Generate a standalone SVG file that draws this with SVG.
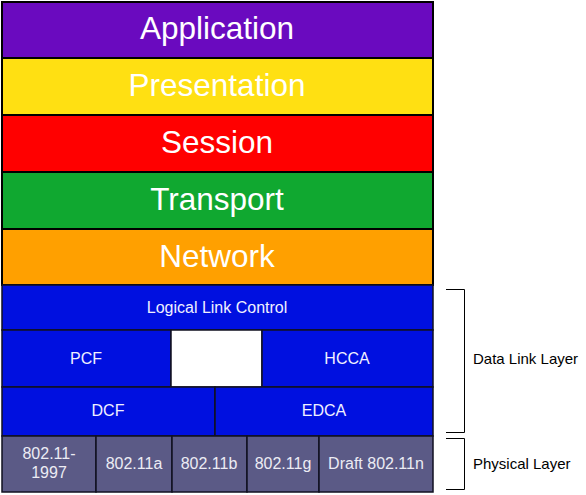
<svg xmlns="http://www.w3.org/2000/svg" width="586" height="495" viewBox="0 0 586 495">
<style>
.big{font-family:"Liberation Sans",Arial,sans-serif;font-size:31.5px;fill:#ffffff;text-anchor:middle}
.sm{font-family:"Liberation Sans",Arial,sans-serif;font-size:16px;fill:#f0f0ff;text-anchor:middle}
.ph{font-family:"Liberation Sans",Arial,sans-serif;font-size:16px;fill:#ececf4;text-anchor:middle}
.lbl{font-family:"Liberation Sans",Arial,sans-serif;font-size:15px;fill:#000000}
.box{stroke:#000000;stroke-width:2}
.mac{fill:#0010e0;stroke:#101020;stroke-width:1.5}
.phy{fill:#5b5a86;stroke:#101020;stroke-width:1.5}
.br{fill:none;stroke:#000000;stroke-width:1}
</style>
<rect width="586" height="495" fill="#ffffff"/>
<g id="application"><rect class="box" x="2" y="2" width="431" height="56" fill="#6a0abf"/><text class="big" x="217" y="39">Application</text></g>
<g id="presentation"><rect class="box" x="2" y="58" width="431" height="57" fill="#ffe012"/><text class="big" x="217" y="96">Presentation</text></g>
<g id="session"><rect class="box" x="2" y="115" width="431" height="57" fill="#ff0000"/><text class="big" x="217" y="153">Session</text></g>
<g id="transport"><rect class="box" x="2" y="172" width="431" height="57" fill="#10a830"/><text class="big" x="217" y="210">Transport</text></g>
<g id="network"><rect class="box" x="2" y="229" width="431" height="56" fill="#ffa000"/><text class="big" x="217" y="267">Network</text></g>
<g id="llc"><rect class="mac" x="2" y="285" width="431" height="45"/><text class="sm" x="217" y="313">Logical Link Control</text></g>
<g id="pcf"><rect class="mac" x="2" y="330" width="169" height="57"/><text class="sm" x="86" y="364">PCF</text></g>
<g id="blank"><rect x="171" y="330" width="91" height="57" fill="#ffffff" stroke="#101020" stroke-width="1.5"/></g>
<g id="hcca"><rect class="mac" x="262" y="330" width="171" height="57"/><text class="sm" x="347" y="364">HCCA</text></g>
<g id="dcf"><rect class="mac" x="2" y="387" width="213" height="49"/><text class="sm" x="108" y="416">DCF</text></g>
<g id="edca"><rect class="mac" x="215" y="387" width="218" height="49"/><text class="sm" x="324" y="416">EDCA</text></g>
<g id="p1997"><rect class="phy" x="2" y="436" width="94" height="56"/><text class="ph" x="49" y="459">802.11-</text><text class="ph" x="49" y="478">1997</text></g>
<g id="p11a"><rect class="phy" x="96" y="436" width="76" height="56"/><text class="ph" x="134" y="469">802.11a</text></g>
<g id="p11b"><rect class="phy" x="172" y="436" width="75" height="56"/><text class="ph" x="209" y="469">802.11b</text></g>
<g id="p11g"><rect class="phy" x="247" y="436" width="72" height="56"/><text class="ph" x="283" y="469">802.11g</text></g>
<g id="p11n"><rect class="phy" x="319" y="436" width="114" height="56"/><text class="ph" x="376" y="469">Draft 802.11n</text></g>
<g id="datalink"><path class="br" d="M446,289.5 H464.5 V432.5 H446"/><text class="lbl" x="473" y="364">Data Link Layer</text></g>
<g id="physical"><path class="br" d="M446,438.5 H464.5 V489.5 H446"/><text class="lbl" x="473" y="469">Physical Layer</text></g>
</svg>
